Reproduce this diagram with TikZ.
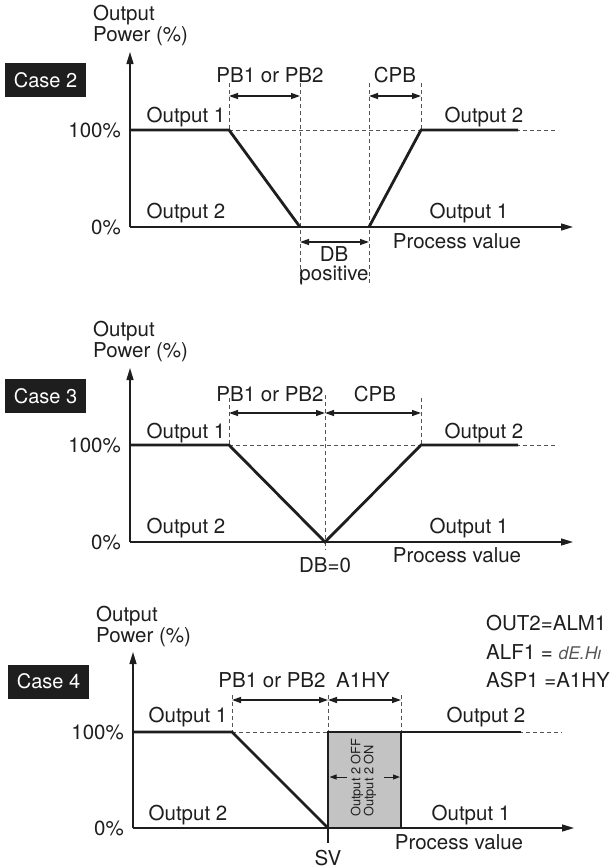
\documentclass[tikz,border=0pt]{standalone}
\usepackage{fontspec}
\setmainfont{TeX Gyre Heros}
\usetikzlibrary{arrows.meta}
\definecolor{ink}{HTML}{1E1E1E}
\definecolor{boxgray}{HTML}{C3C3C3}
\definecolor{dashgray}{HTML}{555555}
\begin{document}
\begin{tikzpicture}[x=1pt,y=-1pt,
  lbl/.style={inner sep=0pt, font=\fontsize{20.5}{21}\selectfont, text=ink},
  smalllbl/.style={inner sep=0pt, font=\fontsize{12.8}{13}\selectfont, text=ink},
  casebox/.style={fill=ink, text=white, minimum width=81pt, minimum height=34pt, inner sep=0pt, font=\fontsize{20}{20}\selectfont},
  axisline/.style={line width=1.3pt, draw=ink, -{Triangle[length=12pt,width=7pt]}},
  plotline/.style={line width=2.8pt, draw=ink, line join=miter},
  guideline/.style={line width=0.8pt, draw=dashgray, dash pattern=on 4pt off 3pt},
  dimarrow/.style={line width=1.3pt, draw=ink, {Triangle[length=9pt,width=6pt]}-{Triangle[length=9pt,width=6pt]}},
  smallarrow/.style={line width=1pt, draw=ink, -{Triangle[length=7pt,width=5pt]}},
  tickline/.style={line width=1.3pt, draw=ink}]
\useasboundingbox (0,0) rectangle (610,868);
% ================= Case 2 =================
\node[casebox] (c2box) at (45.5,80) {Case 2};
\node[lbl, anchor=west, align=left] (c2ylab) at (93,26) {Output\\Power (\%)};
\coordinate (c2o) at (130,227);
\coordinate (c2top) at (130,52);
\coordinate (c2xend) at (573,227);
\coordinate (c2a) at (130,130);
\coordinate (c2b) at (229,130);
\coordinate (c2c) at (300,227);
\coordinate (c2d) at (369,227);
\coordinate (c2e) at (421,130);
\coordinate (c2f) at (518,130);
\coordinate (c2g) at (520,227);
\coordinate (c2h) at (557,130);
\coordinate (c2v1t) at (229,83);
\coordinate (c2v2t) at (300,83);
\coordinate (c2v2b) at (300,283);
\coordinate (c2v3t) at (369,83);
\coordinate (c2v3b) at (369,283);
\coordinate (c2v4t) at (421,83);
\coordinate (c2p1) at (229,96);
\coordinate (c2p2) at (300,96);
\coordinate (c2p3) at (369,96);
\coordinate (c2p4) at (421,96);
\coordinate (c2q1) at (300,242);
\coordinate (c2q2) at (369,242);
\draw[guideline] (c2b) -- (c2h);
\draw[guideline] (c2v1t) -- (c2b);
\draw[guideline] (c2v2t) -- (c2v2b);
\draw[guideline] (c2v3t) -- (c2v3b);
\draw[guideline] (c2v4t) -- (c2e);
\draw[axisline] (c2o) -- (c2top);
\draw[axisline] (c2o) -- (c2xend);
\draw[plotline] (c2a) -- (c2b) -- (c2c);
\draw[plotline] (c2o) -- (c2g);
\draw[plotline] (c2d) -- (c2e) -- (c2f);
\draw[dimarrow] (c2p1) -- (c2p2);
\draw[dimarrow] (c2p3) -- (c2p4);
\draw[dimarrow] (c2q1) -- (c2q2);
\node[lbl] (c2pb) at (270,75) {PB1 or PB2};
\node[lbl] (c2cpb) at (395,75) {CPB};
\node[lbl] (c2o1u) at (186,117) {Output 1};
\node[lbl] (c2o2u) at (484,117) {Output 2};
\node[lbl] (c2o2l) at (186,213) {Output 2};
\node[lbl] (c2o1l) at (469,213) {Output 1};
\node[lbl] (c2pv) at (457,241) {Process value};
\node[lbl, align=center, font=\fontsize{20.5}{19}\selectfont] (c2db) at (334,266) {DB\\positive};
\node[lbl, anchor=east] (c2hund) at (121,130) {100\%};
\node[lbl, anchor=east] (c2zero) at (121,227) {0\%};
% ================= Case 3 =================
\node[casebox] (c3box) at (45.5,396) {Case 3};
\node[lbl, anchor=west, align=left] (c3ylab) at (93,342) {Output\\Power (\%)};
\coordinate (c3o) at (130,542);
\coordinate (c3top) at (130,368);
\coordinate (c3xend) at (573,542);
\coordinate (c3a) at (130,445);
\coordinate (c3b) at (229,445);
\coordinate (c3c) at (325,542);
\coordinate (c3e) at (421,445);
\coordinate (c3f) at (518,445);
\coordinate (c3g) at (520,542);
\coordinate (c3h) at (557,445);
\coordinate (c3v1t) at (229,398);
\coordinate (c3v2t) at (325,395);
\coordinate (c3v2b) at (325,550);
\coordinate (c3v3t) at (421,398);
\coordinate (c3p1) at (229,413);
\coordinate (c3p2) at (325,413);
\coordinate (c3p3) at (421,413);
\draw[guideline] (c3b) -- (c3h);
\draw[guideline] (c3v1t) -- (c3b);
\draw[guideline] (c3v2t) -- (c3v2b);
\draw[guideline] (c3v3t) -- (c3e);
\draw[axisline] (c3o) -- (c3top);
\draw[axisline] (c3o) -- (c3xend);
\draw[plotline] (c3a) -- (c3b) -- (c3c) -- (c3e) -- (c3f);
\draw[plotline] (c3o) -- (c3g);
\draw[dimarrow] (c3p1) -- (c3p2);
\draw[dimarrow] (c3p2) -- (c3p3);
\node[lbl] (c3pb) at (270,394) {PB1 or PB2};
\node[lbl] (c3cpb) at (375,394) {CPB};
\node[lbl] (c3o1u) at (186,433) {Output 1};
\node[lbl] (c3o2u) at (484,433) {Output 2};
\node[lbl] (c3o2l) at (186,528) {Output 2};
\node[lbl] (c3o1l) at (469,528) {Output 1};
\node[lbl] (c3pv) at (457,555) {Process value};
\node[lbl] (c3db) at (325,565) {DB=0};
\node[lbl, anchor=east] (c3hund) at (121,445) {100\%};
\node[lbl, anchor=east] (c3zero) at (121,542) {0\%};
% ================= Case 4 =================
\node[casebox] (c4box) at (48.5,681.5) {Case 4};
\node[lbl, anchor=west, align=left] (c4ylab) at (96,627) {Output\\Power (\%)};
\coordinate (c4o) at (133,828);
\coordinate (c4top) at (133,652);
\coordinate (c4xend) at (574,828);
\coordinate (c4a) at (133,732);
\coordinate (c4b) at (232,732);
\coordinate (c4c) at (328,828);
\coordinate (c4d) at (328,732);
\coordinate (c4r) at (401,732);
\coordinate (c4rb) at (401,828);
\coordinate (c4f) at (521,732);
\coordinate (c4g) at (521,828);
\coordinate (c4h) at (562,732);
\coordinate (c4v1t) at (232,695);
\coordinate (c4v2t) at (328,695);
\coordinate (c4v3t) at (401,695);
\coordinate (c4sv) at (328,843);
\coordinate (c4p1) at (232,700);
\coordinate (c4p2) at (328,700);
\coordinate (c4p3) at (401,700);
\coordinate (c4s1) at (347,777);
\coordinate (c4s2) at (329.5,777);
\coordinate (c4s3) at (384,777);
\coordinate (c4s4) at (400,777);
\fill[boxgray] (c4d) rectangle (c4rb);
\draw[guideline] (c4b) -- (c4h);
\draw[guideline] (c4v1t) -- (c4b);
\draw[guideline] (c4v2t) -- (c4d);
\draw[guideline] (c4v3t) -- (c4r);
\draw[axisline] (c4o) -- (c4top);
\draw[axisline] (c4o) -- (c4xend);
\draw[tickline] (c4c) -- (c4sv);
\draw[line width=1.5pt, draw=ink] (c4r) -- (c4rb);
\draw[plotline] (c4a) -- (c4b) -- (c4c);
\draw[plotline] (c4o) -- (c4g);
\draw[plotline] (c4c) -- (c4d) -- (c4f);
\draw[dimarrow] (c4p1) -- (c4p2);
\draw[dimarrow] (c4p2) -- (c4p3);
\draw[smallarrow] (c4s1) -- (c4s2);
\draw[smallarrow] (c4s3) -- (c4s4);
\node[smalllbl, rotate=90, anchor=west, align=left] (c4boxtxt) at (363.5,817) {Output 2 OFF\\Output 2 ON};
\node[lbl] (c4pb) at (272,680) {PB1 or PB2};
\node[lbl] (c4a1hy) at (363,680) {A1HY};
\node[lbl] (c4o1u) at (188,717) {Output 1};
\node[lbl] (c4o2u) at (486,717) {Output 2};
\node[lbl] (c4o2l) at (188,815) {Output 2};
\node[lbl] (c4o1l) at (471,815) {Output 1};
\node[lbl] (c4pv) at (459,842) {Process value};
\node[lbl, anchor=base] (c4svlbl) at (328,865) {SV};
\node[lbl, anchor=east] (c4hund) at (124,732) {100\%};
\node[lbl, anchor=east] (c4zero) at (124,828) {0\%};
\node[lbl, anchor=west] (c4out2) at (486,623) {OUT2=ALM1};
\node[lbl, anchor=west] (c4alf1) at (486,652) {ALF1 = {\color{dashgray}\fontsize{17.5}{18}\selectfont\itshape dE.H\i}};
\node[lbl, anchor=west] (c4asp1) at (486,680) {ASP1 =A1HY};
\end{tikzpicture}
\end{document}
